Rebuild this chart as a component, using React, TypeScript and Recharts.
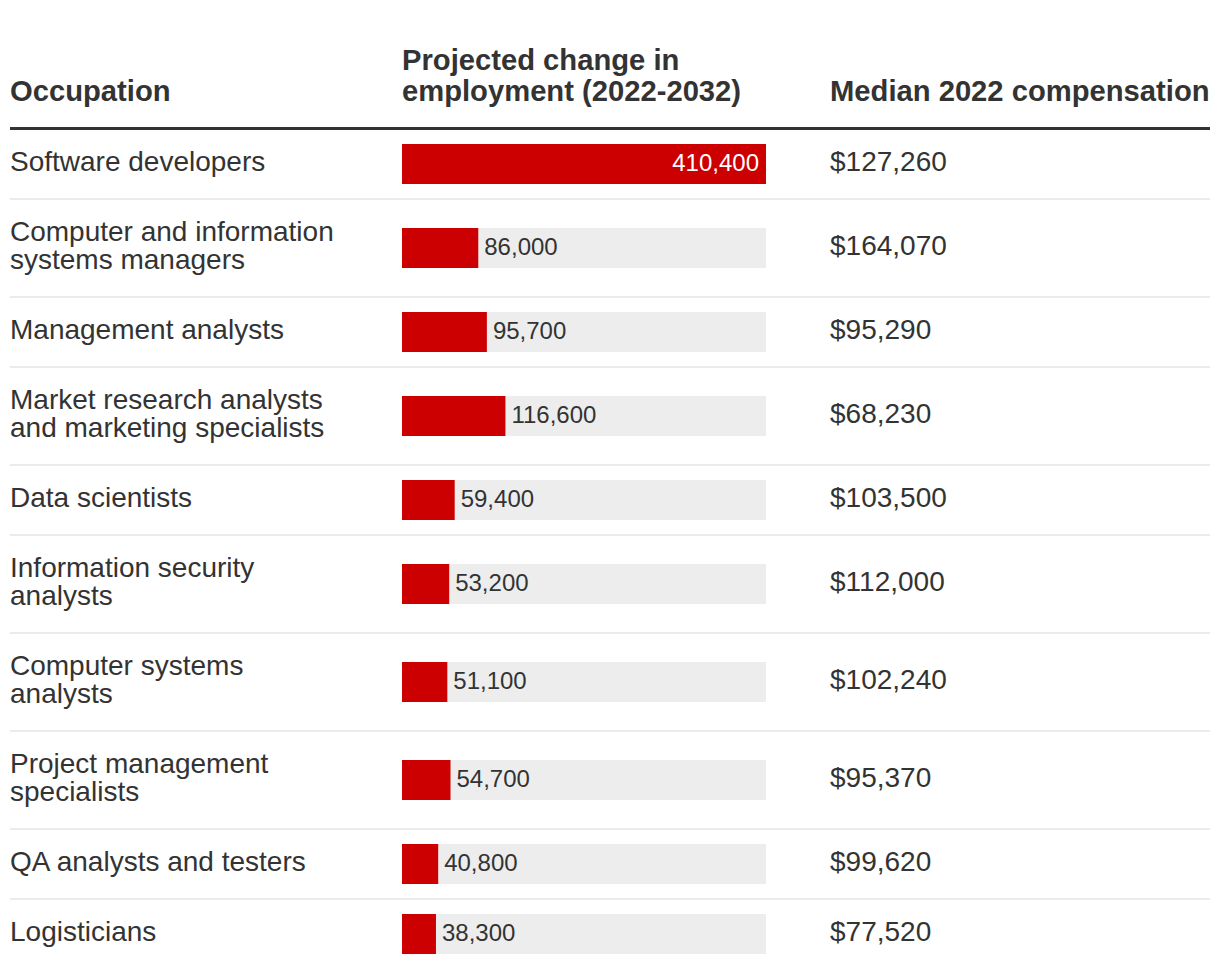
import { BarChart, Bar, XAxis, YAxis, LabelList } from "recharts";

const occupations = [
  "Software developers",
  "Computer and information systems managers",
  "Management analysts",
  "Market research analysts and marketing specialists",
  "Data scientists",
  "Information security analysts",
  "Computer systems analysts",
  "Project management specialists",
  "QA analysts and testers",
  "Logisticians",
];
const employmentChange = [410400, 86000, 95700, 116600, 59400, 53200, 51100, 54700, 40800, 38300];
const medianPay = [127260, 164070, 95290, 68230, 103500, 112000, 102240, 95370, 99620, 77520];
const headers = ["Occupation", "Projected change in employment (2022-2032)", "Median 2022 compensation"];

const FONT = '"Liberation Sans", Arial, Helvetica, sans-serif';
const RED = "#cc0000";
const TEXT = "#333333";
const MAX = Math.max(...employmentChange);

const fmt = (n: number) => n.toLocaleString("en-US");

function ValueLabel(props: any) {
  const { x, y, width, height, value } = props;
  const inside = width > 120;
  return (
    <text
      x={inside ? x + width - 7 : x + width + 6}
      y={y + height / 2}
      dy={-2}
      textAnchor={inside ? "end" : "start"}
      dominantBaseline="central"
      fill={inside ? "#ffffff" : TEXT}
      fontSize={24}
      fontFamily={FONT}
    >
      {fmt(value)}
    </text>
  );
}

function RowBar({ name, value }: { name: string; value: number }) {
  return (
    <BarChart
      width={364}
      height={40}
      layout="vertical"
      data={[{ name, value }]}
      margin={{ top: 0, right: 0, bottom: 0, left: 0 }}
      barCategoryGap={0}
    >
      <XAxis type="number" domain={[0, MAX]} hide />
      <YAxis type="category" dataKey="name" hide />
      <Bar dataKey="value" fill={RED} background={{ fill: "#ededed" }} isAnimationActive={false}>
        <LabelList dataKey="value" content={ValueLabel} />
      </Bar>
    </BarChart>
  );
}

export default function App() {
  return (
    <div style={{ width: 1200, marginLeft: 2, paddingTop: 37, fontFamily: FONT, color: TEXT }}>
      <div
        style={{
          display: "flex",
          alignItems: "flex-end",
          fontWeight: "bold",
          fontSize: 29.2,
          lineHeight: "31px",
          paddingBottom: 20,
          borderBottom: `3px solid ${TEXT}`,
        }}
      >
        <div style={{ width: 392 }}>{headers[0]}</div>
        <div style={{ width: 428, paddingRight: 60, boxSizing: "border-box" }}>{headers[1]}</div>
        <div style={{ whiteSpace: "nowrap" }}>{headers[2]}</div>
      </div>
      {occupations.map((occ, i) => (
        <div
          key={occ}
          style={{
            display: "flex",
            alignItems: "center",
            fontSize: 28,
            lineHeight: "28px",
            borderBottom: i < occupations.length - 1 ? "2px solid #ebebeb" : "none",
          }}
        >
          <div style={{ width: 340, padding: "18px 0 22px", marginRight: 52 }}>{occ}</div>
          <div style={{ width: 428, height: 40 }}>
            <RowBar name={occ} value={employmentChange[i]} />
          </div>
          <div style={{ position: "relative", top: -2 }}>${fmt(medianPay[i])}</div>
        </div>
      ))}
    </div>
  );
}
